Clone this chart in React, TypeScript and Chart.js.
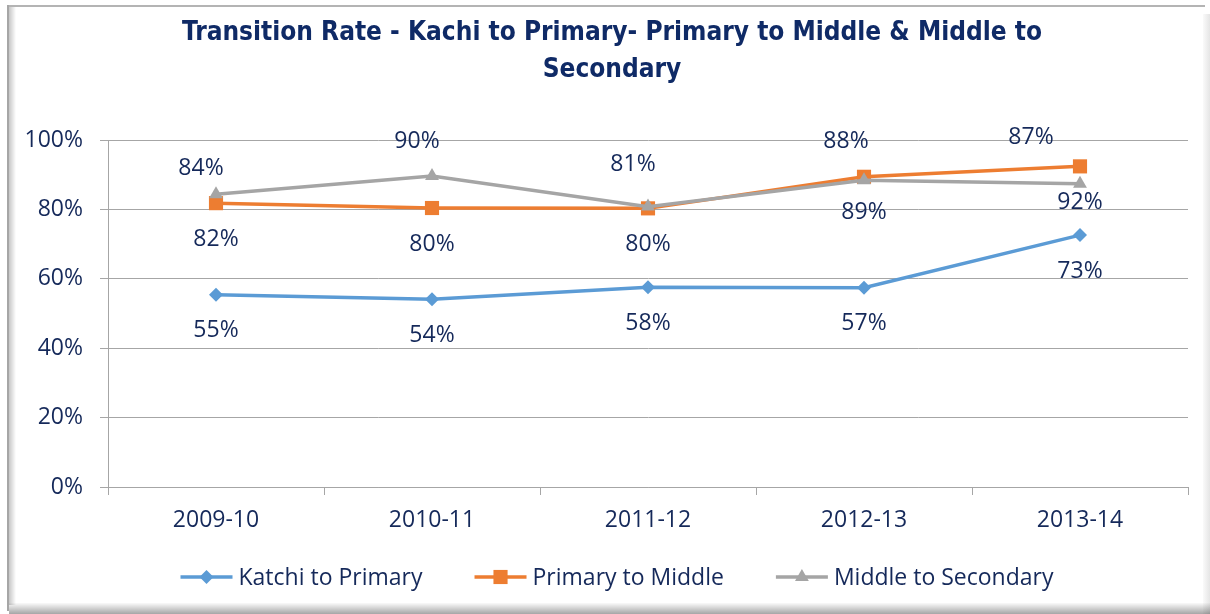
import { useEffect, useRef } from 'react';
import { Chart, registerables } from 'chart.js';

Chart.register(...registerables);

const categories = ['2009-10', '2010-11', '2011-12', '2012-13', '2013-14'];
const seriesNames = ['Katchi to Primary', 'Primary to Middle', 'Middle to Secondary'];
const katchiToPrimary = [55.4, 54.1, 57.6, 57.4, 72.6];
const primaryToMiddle = [81.8, 80.4, 80.3, 89.4, 92.4];
const middleToSecondary = [84.4, 89.6, 80.8, 88.4, 87.4];
const yTicks = [0, 20, 40, 60, 80, 100];
const titleLines = ['Transition Rate - Kachi to Primary- Primary to Middle & Middle to', 'Secondary'];

const TEXT = '#15295a';
const TITLE_COLOR = '#0f2a66';
const FONT = "'Open Sans', 'Noto Sans', sans-serif";
const TITLE_FONT = "'Liberation Sans Narrow', 'DejaVu Sans Condensed', 'Open Sans', sans-serif";
const COLORS = ['#5b9bd5', '#ed7d31', '#a5a5a5'];
const STYLES = ['rectRot', 'rect', 'triangle'];
const RADII = [7, 10, 8];

// label placement styles (pixels, not data)
const BELOW_DY = 36;
const ABOVE_DX = [-15, -15, -15, -18, -49];
const ABOVE_DY = [-26, -35, -42, -39, -46];

function drawMarker(ctx: CanvasRenderingContext2D, style: string, x: number, y: number, r: number, color: string) {
  ctx.fillStyle = color;
  ctx.beginPath();
  if (style === 'rectRot') {
    ctx.moveTo(x, y - r);
    ctx.lineTo(x + r, y);
    ctx.lineTo(x, y + r);
    ctx.lineTo(x - r, y);
  } else if (style === 'rect') {
    const s = r * Math.SQRT1_2;
    ctx.rect(x - s, y - s, 2 * s, 2 * s);
  } else {
    ctx.moveTo(x, y - r);
    ctx.lineTo(x + r * 0.866, y + r * 0.5);
    ctx.lineTo(x - r * 0.866, y + r * 0.5);
  }
  ctx.closePath();
  ctx.fill();
}

const framePlugin = {
  id: 'frame',
  beforeDraw(chart: any) {
    const { ctx, width, height } = chart;
    ctx.save();
    ctx.fillStyle = '#ffffff';
    ctx.fillRect(0, 0, width, height);
    ctx.fillStyle = '#b4b4b4';
    ctx.fillRect(7, 5, width - 12, 2);
    ctx.fillStyle = '#a6a6a6';
    ctx.fillRect(7, 5, 2, height - 8);
    let g = ctx.createLinearGradient(9, 0, 16, 0);
    g.addColorStop(0, 'rgba(0,0,0,0.22)');
    g.addColorStop(1, 'rgba(0,0,0,0)');
    ctx.fillStyle = g;
    ctx.fillRect(9, 7, 7, height - 16);
    g = ctx.createLinearGradient(width - 7, 0, width, 0);
    g.addColorStop(0, 'rgba(0,0,0,0.02)');
    g.addColorStop(1, 'rgba(0,0,0,0.10)');
    ctx.fillStyle = g;
    ctx.fillRect(width - 7, 14, 7, height - 14);
    g = ctx.createLinearGradient(0, height - 11, 0, height);
    g.addColorStop(0, 'rgba(0,0,0,0.02)');
    g.addColorStop(1, 'rgba(0,0,0,0.35)');
    ctx.fillStyle = g;
    ctx.fillRect(9, height - 11, width - 9, 11);
    ctx.restore();
  },
};

const titlePlugin = {
  id: 'customTitle',
  afterDraw(chart: any) {
    const { ctx } = chart;
    ctx.save();
    ctx.font = `bold 26px ${TITLE_FONT}`;
    ctx.fillStyle = TITLE_COLOR;
    ctx.textAlign = 'center';
    ctx.textBaseline = 'middle';
    ctx.fillText(titleLines[0], 612, 33);
    ctx.fillText(titleLines[1], 612, 70);
    ctx.restore();
  },
};

const labelPlugin = {
  id: 'pointLabels',
  afterDatasetsDraw(chart: any) {
    const { ctx } = chart;
    ctx.save();
    ctx.font = `23px ${FONT}`;
    ctx.fillStyle = TEXT;
    ctx.textAlign = 'center';
    ctx.textBaseline = 'middle';
    chart.data.datasets.forEach((ds: any, di: number) => {
      const meta = chart.getDatasetMeta(di);
      meta.data.forEach((pt: any, i: number) => {
        const v = ds.data[i] as number;
        const txt = Math.round(v) + '%';
        if (di === 2) {
          ctx.fillText(txt, pt.x + ABOVE_DX[i], pt.y + ABOVE_DY[i]);
        } else {
          ctx.fillText(txt, pt.x, pt.y + BELOW_DY);
        }
      });
    });
    ctx.restore();
  },
};

const legendPlugin = {
  id: 'lineLegend',
  afterDraw(chart: any) {
    const { ctx, width } = chart;
    ctx.save();
    ctx.font = `23px ${FONT}`;
    ctx.textBaseline = 'middle';
    ctx.textAlign = 'left';
    const lineLen = 52;
    const gapText = 6;
    const gapItem = 52;
    const widths = seriesNames.map((n) => ctx.measureText(n).width);
    const total = widths.reduce((a, w) => a + lineLen + gapText + w, 0) + gapItem * (seriesNames.length - 1);
    let x = width / 2 + 12 - total / 2;
    const y = 577;
    seriesNames.forEach((n, i) => {
      ctx.strokeStyle = COLORS[i];
      ctx.lineWidth = 3.5;
      ctx.beginPath();
      ctx.moveTo(x, y);
      ctx.lineTo(x + lineLen, y);
      ctx.stroke();
      drawMarker(ctx, STYLES[i], x + lineLen / 2, y, RADII[i], COLORS[i]);
      ctx.fillStyle = TEXT;
      ctx.fillText(n, x + lineLen + gapText, y + 1);
      x += lineLen + gapText + widths[i] + gapItem;
    });
    ctx.restore();
  },
};

export default function App() {
  const ref = useRef<HTMLCanvasElement | null>(null);
  useEffect(() => {
    document.body.style.margin = '0';
    if (!ref.current) return;
    const seriesData = [katchiToPrimary, primaryToMiddle, middleToSecondary];
    const chart = new Chart(ref.current, {
      type: 'line',
      data: {
        labels: categories,
        datasets: seriesData.map((d, i) => ({
          label: seriesNames[i],
          data: d,
          borderColor: COLORS[i],
          backgroundColor: COLORS[i],
          borderWidth: 3.5,
          pointStyle: STYLES[i] as any,
          pointRadius: RADII[i],
          pointBorderWidth: 0,
          pointBackgroundColor: COLORS[i],
          tension: 0,
          order: 3 - i,
        })),
      },
      options: {
        responsive: false,
        animation: false,
        layout: { padding: { left: 8, right: 22, top: 140, bottom: 77 } },
        plugins: {
          legend: { display: false },
          tooltip: { enabled: false },
          title: { display: false },
        },
        scales: {
          x: {
            offset: true,
            grid: { offset: true, drawOnChartArea: false, drawTicks: true, tickLength: 8, color: '#a6a6a6' },
            border: { color: '#a6a6a6', width: 1 },
            ticks: { color: TEXT, font: { family: FONT, size: 23 }, padding: 12, maxRotation: 0 },
            afterFit: (s: any) => { s.height = 50; },
          },
          y: {
            min: 0,
            max: 100,
            afterBuildTicks: (s: any) => { s.ticks = yTicks.map((v) => ({ value: v })); },
            grid: { color: '#a6a6a6', tickLength: 8 },
            border: { color: '#a6a6a6', width: 1 },
            ticks: { color: TEXT, font: { family: FONT, size: 23 }, padding: 17, callback: (v: any) => v + '%' },
            afterFit: (s: any) => { s.width = 100; },
          },
        },
      },
      plugins: [framePlugin, titlePlugin, labelPlugin, legendPlugin],
    });
    return () => chart.destroy();
  }, []);
  return <canvas ref={ref} width={1210} height={614} style={{ display: 'block', width: 1210, height: 614 }} />;
}
